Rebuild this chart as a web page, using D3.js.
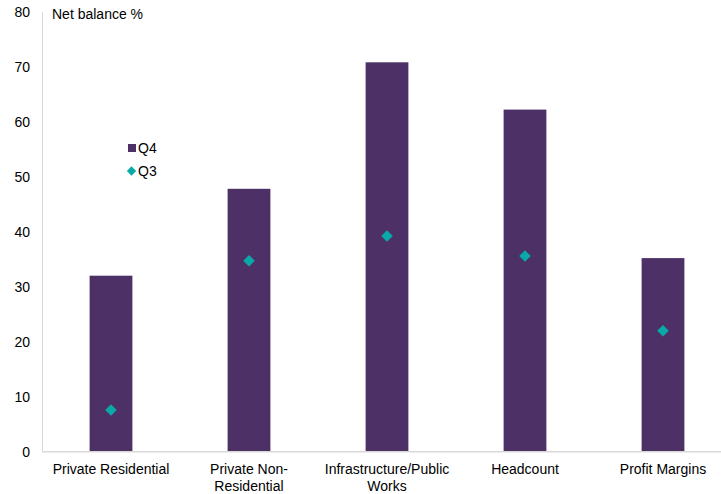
<!DOCTYPE html>
<html>
<head>
<meta charset="utf-8">
<script src="https://cdn.jsdelivr.net/npm/d3@7"></script>
<style>
  html, body { margin: 0; padding: 0; background: #fff; }
  svg { display: block; font-family: "Liberation Sans", Arial, sans-serif; }
</style>
</head>
<body>
<svg id="chart" width="721" height="494"></svg>
<script>
// Survey net balances by category
const categories = ["Private Residential", "Private Non-Residential", "Infrastructure/Public Works", "Headcount", "Profit Margins"];
const categoryLines = [["Private Residential"], ["Private Non-", "Residential"], ["Infrastructure/Public", "Works"], ["Headcount"], ["Profit Margins"]];
const q4Values = [32.0, 47.8, 70.8, 62.2, 35.2];
const q3Values = [7.6, 34.7, 39.2, 35.6, 22.0];
const yTicks = [0, 10, 20, 30, 40, 50, 60, 70, 80];

const barColor = "#4d3066";
const dotColor = "#0aa9a9";
const axisColor = "#d9d9d9";

const svg = d3.select("#chart");
const plotLeft = 42, plotRight = 732, plotTop = 11.7, plotBottom = 451.7;

const x = d3.scaleBand().domain(categories).range([plotLeft, plotRight]).paddingInner(0.69).paddingOuter(0.345);
const y = d3.scaleLinear().domain([0, 80]).range([plotBottom, plotTop]);

// y axis: labels only, plus a light vertical line
const yAxis = d3.axisLeft(y).tickValues(yTicks).tickSize(0).tickPadding(12);
const gy = svg.append("g").attr("transform", `translate(${plotLeft},0)`).call(yAxis);
gy.select(".domain").attr("stroke", axisColor);
gy.selectAll("text").attr("font-size", 14).attr("fill", "#000").attr("font-family", "Liberation Sans, Arial, sans-serif");

// Q4 bars
svg.append("g").selectAll("rect").data(q4Values).join("rect")
  .attr("x", (d, i) => x(categories[i]))
  .attr("width", x.bandwidth())
  .attr("y", d => y(d))
  .attr("height", d => y(0) - y(d))
  .attr("fill", barColor);

// baseline
svg.append("line").attr("x1", plotLeft).attr("x2", 721).attr("y1", y(0)).attr("y2", y(0))
  .attr("stroke", axisColor).attr("stroke-width", 1.5);

// Q3 markers
const diamond = d3.symbol().type(d3.symbolDiamond2).size(85);
svg.append("g").selectAll("path").data(q3Values).join("path")
  .attr("d", diamond)
  .attr("transform", (d, i) => `translate(${x(categories[i]) + x.bandwidth() / 2},${y(d)})`)
  .attr("fill", dotColor);

// category labels
const xl = svg.append("g");
categoryLines.forEach((lines, i) => {
  const cx = x(categories[i]) + x.bandwidth() / 2;
  const t = xl.append("text")
    .attr("x", cx)
    .attr("y", 474)
    .attr("text-anchor", "middle")
    .attr("font-size", 14)
    .attr("fill", "#000");
  lines.forEach((ln, j) => {
    t.append("tspan").attr("x", cx).attr("dy", j === 0 ? 0 : 17).text(ln);
  });
});

// axis title
svg.append("text").attr("x", 52).attr("y", 19).attr("font-size", 14).attr("fill", "#000").text("Net balance %");

// legend
const lg = svg.append("g");
lg.append("rect").attr("x", 128).attr("y", 144).attr("width", 8).attr("height", 8).attr("fill", barColor);
lg.append("text").attr("x", 138).attr("y", 153).attr("font-size", 14).attr("fill", "#000").text("Q4");
lg.append("path").attr("d", d3.symbol().type(d3.symbolDiamond2).size(55)).attr("transform", "translate(131.5,171)").attr("fill", dotColor);
lg.append("text").attr("x", 138).attr("y", 176).attr("font-size", 14).attr("fill", "#000").text("Q3");
</script>
</body>
</html>
